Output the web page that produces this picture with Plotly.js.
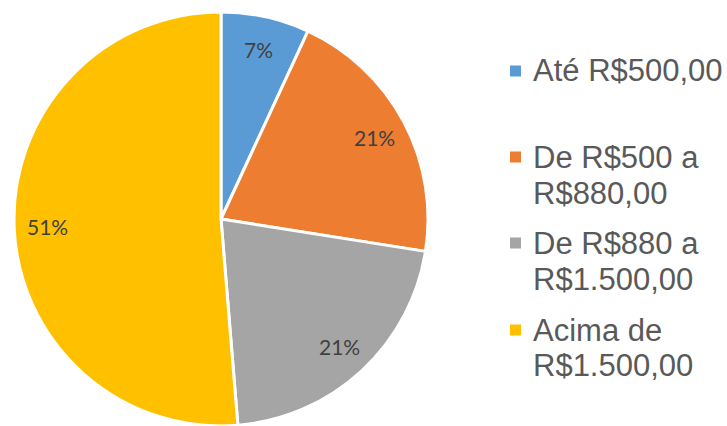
<!DOCTYPE html>
<html>
<head>
<meta charset="utf-8">
<script src="https://cdn.plot.ly/plotly-3.0.1.min.js"></script>
<style>html,body{margin:0;padding:0;background:#fff;}#chart{width:727px;height:426px;}</style>
</head>
<body>
<div id="chart"></div>
<script>
const categories = ["Até R$500,00", "De R$500 a R$880,00", "De R$880 a R$1.500,00", "Acima de R$1.500,00"];
const legendLines = [["Até R$500,00"], ["De R$500 a", "R$880,00"], ["De R$880 a", "R$1.500,00"], ["Acima de", "R$1.500,00"]];
const values = [6.9, 20.6, 21.2, 51.3];
const colors = ["#5B9BD5", "#ED7D31", "#A5A5A5", "#FFC000"];

const W = 727, H = 426;
const CX = 221, CY = 219, R = 207;

const trace = {
  type: "pie",
  labels: categories,
  values: values,
  sort: false,
  direction: "clockwise",
  rotation: 0,
  marker: {colors: colors, line: {color: "#ffffff", width: 3}},
  textinfo: "none",
  hoverinfo: "label+percent",
  domain: {x: [(CX - R) / W, (CX + R) / W], y: [(H - CY - R) / H, (H - CY + R) / H]},
  showlegend: false
};

const annotations = [];
const shapes = [];

// Percentage labels placed near the outer part of each slice (Excel style)
const total = values.reduce((a, b) => a + b, 0);
let cum = 0;
values.forEach((v) => {
  const mid = (cum + v / 2) / total * 2 * Math.PI;
  cum += v;
  const rr = 0.84 * R;
  const px = CX + rr * Math.sin(mid);
  const py = CY - rr * Math.cos(mid);
  annotations.push({
    xref: "paper", yref: "paper",
    x: px / W, y: 1 - py / H,
    xanchor: "center", yanchor: "middle",
    text: Math.round(v / total * 100) + "%", showarrow: false,
    font: {family: "Lato, 'Noto Sans', sans-serif", size: 21, color: "#404040"}
  });
});

// Custom legend drawn as annotations and shapes (Excel-like tight line spacing)
const lineMids = [[71], [157, 193], [243, 279], [330, 365]];
legendLines.forEach((lines, i) => {
  lines.forEach((t, j) => {
    annotations.push({
      xref: "paper", yref: "paper",
      x: 531 / W, y: 1 - lineMids[i][j] / H,
      xanchor: "left", yanchor: "middle",
      text: t, showarrow: false,
      font: {family: "'Liberation Sans', Arial, sans-serif", size: 31, color: "#595959"}
    });
  });
  const cy = lineMids[i][0];
  shapes.push({
    type: "rect", xref: "paper", yref: "paper",
    x0: 510 / W, x1: 521 / W, y0: 1 - (cy + 5.5) / H, y1: 1 - (cy - 5.5) / H,
    fillcolor: colors[i], line: {width: 0}
  });
});

const layout = {
  width: W, height: H,
  margin: {l: 0, r: 0, t: 0, b: 0},
  paper_bgcolor: "#ffffff",
  showlegend: false,
  annotations: annotations,
  shapes: shapes
};

Plotly.newPlot("chart", [trace], layout, {displayModeBar: false, staticPlot: true});
</script>
</body>
</html>
